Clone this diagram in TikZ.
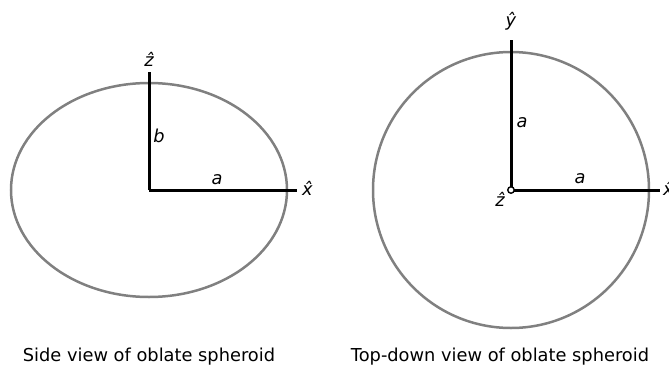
\documentclass[tikz,border=0pt]{standalone}
\usepackage{fontspec}
\setmainfont{DejaVu Sans}
\usetikzlibrary{positioning}

\begin{document}
\begin{tikzpicture}[
    x=1pt, y=-1pt,
    axis/.style={
        line width=3pt
    },
    outline/.style={
        draw=gray,
        line width=2.5pt
    },
    lbl/.style={
        inner sep=0pt,
        font=\fontsize{17.8}{20}\selectfont\itshape
    },
    caption/.style={
        inner sep=0pt,
        font=\fontsize{17.8}{20}\selectfont
    }
]
\useasboundingbox (0,0) rectangle (669,364);

% Side view
\coordinate (o1) at (149,190);
\coordinate (z1) at (149,72);
\coordinate (x1) at (297,190);
\draw[outline] (o1) ellipse [x radius=138pt, y radius=107pt];
\draw[axis] (o1) -- (z1);
\draw[axis] (o1) -- (x1);
\node[lbl, above=5pt of z1] (zhat1) {\^{z}};
\node[lbl, anchor=base west] (xhat1) at ([xshift=5pt, yshift=-5pt]x1) {\^{x}};
\node[lbl, anchor=base] (blab) at (159,142) {b};
\node[lbl, anchor=base] (alab1) at (217,184) {a};

% Top-down view
\coordinate (o2) at (511,190);
\coordinate (y2) at (511,40);
\coordinate (x2) at (660,190);
\draw[outline] (o2) circle [radius=138pt];
\draw[axis] (o2) -- (y2);
\draw[axis] (o2) -- (x2);
\node[circle, draw, fill=white, line width=1.4pt, inner sep=0pt,
      minimum size=6.5pt] (zdot) at (o2) {};
\node[lbl, above=10pt of y2] (yhat2) {\^{y}};
\node[lbl, anchor=base west] (xhat2) at ([xshift=3pt, yshift=-5pt]x2) {\^{x}};
\node[lbl, anchor=base] (zhat2) at (500,206) {\^{z}};
\node[lbl, anchor=base] (alab2) at (522,127) {a};
\node[lbl, anchor=base] (alab3) at (580,183) {a};

% Captions
\node[caption, anchor=base] (side) at (149,361) {Side view of oblate spheroid};
\node[caption, anchor=base] (top) at (500,361) {Top-down view of oblate spheroid};

\end{tikzpicture}
\end{document}
